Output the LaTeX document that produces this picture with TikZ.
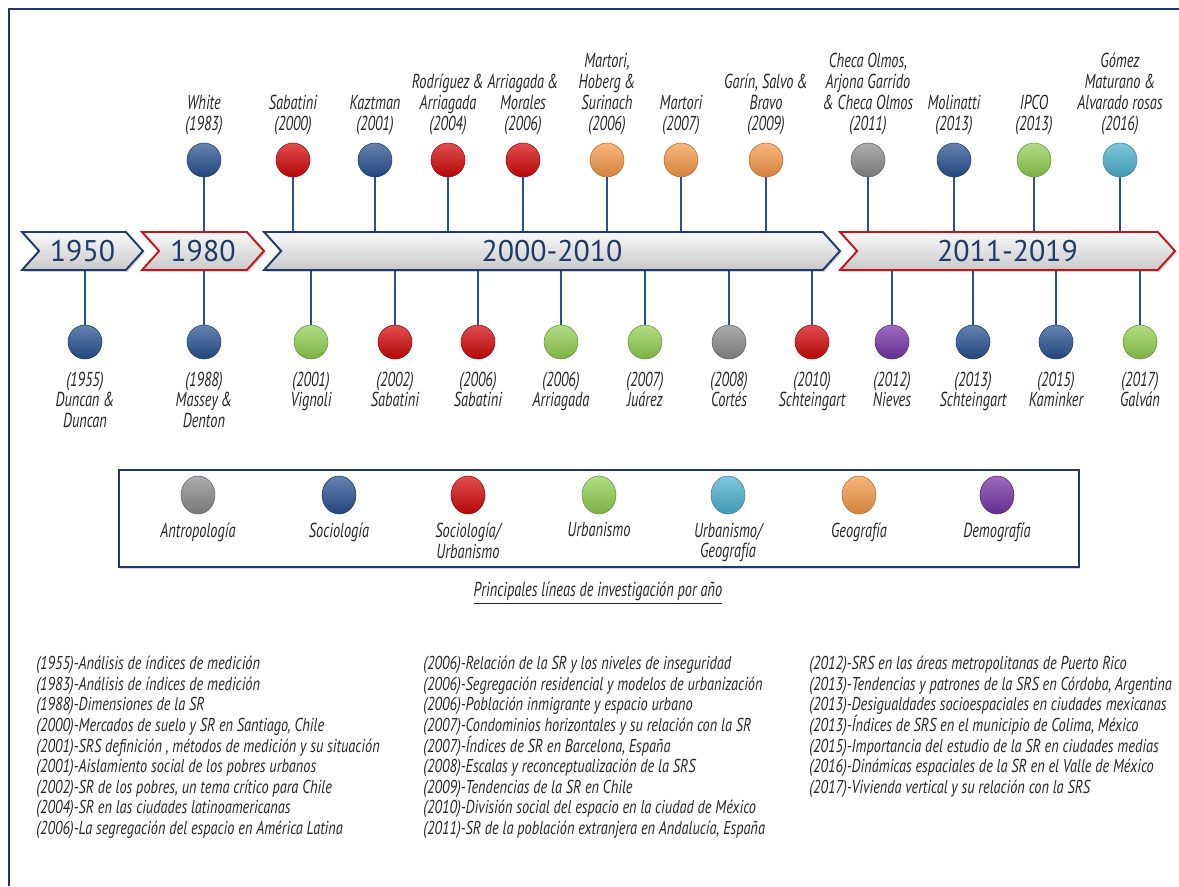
\documentclass[tikz,border=0pt]{standalone}
\usepackage{fontspec}
\setmainfont{PT Sans}
\newfontfamily\handfont{PT Sans}[FakeStretch=0.71]
\newfontfamily\listfont{PT Sans}[FakeStretch=0.77]
\usetikzlibrary{positioning, shapes.symbols, shapes.geometric, shadows}

\definecolor{socblue}{RGB}{40,82,145}
\definecolor{socred}{RGB}{212,8,10}
\definecolor{urbgreen}{RGB}{146,208,80}
\definecolor{urbcyan}{RGB}{75,178,208}
\definecolor{geoorange}{RGB}{247,153,72}
\definecolor{antgray}{RGB}{140,140,140}
\definecolor{demopurple}{RGB}{118,52,168}
\definecolor{framblue}{RGB}{31,58,104}
\definecolor{stemblue}{RGB}{45,80,140}
\definecolor{barred}{RGB}{196,20,30}

\begin{document}
\begin{tikzpicture}[x=0.02cm, y=-0.02cm,
    bead/.style={circle, minimum size=0.68cm, inner sep=0pt, draw=#1!70!black, line width=0.3pt, top color=#1!72!white, bottom color=#1!85!black},
    legbead/.style={ellipse, minimum width=0.68cm, minimum height=0.76cm, inner sep=0pt, draw=#1!70!black, line width=0.3pt, top color=#1!72!white, bottom color=#1!85!black},
    banner/.style={signal, signal from=west, signal to=east, signal pointer angle=96, minimum height=0.76cm, inner sep=0pt, top color=gray!5, bottom color=gray!42, draw=framblue, line width=1.1pt, text=framblue, font=\fontsize{17}{17}\selectfont, drop shadow={opacity=0.35, shadow xshift=1pt, shadow yshift=-1pt}},
    redbanner/.style={banner, draw=barred},
    stem/.style={draw=stemblue, line width=1.2pt},
    toplab/.style={align=center, inner sep=0pt, text=black!85, font=\handfont\itshape\fontsize{11.5}{11.9}\selectfont},
    legtext/.style={toplab},
    listtext/.style={align=left, anchor=north west, inner sep=0pt, text=black!85, font=\listfont\itshape\fontsize{10.6}{11.7}\selectfont}
  ]
  \useasboundingbox (0,0) rectangle (1179,886);
  \draw[framblue, line width=1.5pt] (1179,9) -- (9,9) -- (9,886);

  % time bar
  \node (b1950) [banner, minimum width=2.42cm] at (82.5,251) {1950};
  \node (b1980) [redbanner, minimum width=2.44cm] at (203,251) {1980};
  \node (b2000) [banner, minimum width=11.52cm] at (552,251) {2000-2010};
  \node (b2011) [redbanner, minimum width=6.7cm] at (1007.5,251) {2011-2019};

  % upper row
  \node (tWhite) [bead=socblue] at (204,160) {};
  \node (tSab) [bead=socred] at (293,160) {};
  \node (tKaz) [bead=socblue] at (375,160) {};
  \node (tRod) [bead=socred] at (448,160) {};
  \node (tArrM) [bead=socred] at (523,160) {};
  \node (tMarH) [bead=geoorange] at (607,160) {};
  \node (tMar) [bead=geoorange] at (681,160) {};
  \node (tGar) [bead=geoorange] at (766,160) {};
  \node (tChe) [bead=antgray] at (868,160) {};
  \node (tMol) [bead=socblue] at (954,160) {};
  \node (tIPCO) [bead=urbgreen] at (1034,160) {};
  \node (tGom) [bead=urbcyan] at (1120,160) {};

  \node (lWhite) [toplab, above=0.15cm of tWhite] {White\\(1983)};
  \node (lSab) [toplab, above=0.15cm of tSab] {Sabatini\\(2000)};
  \node (lKaz) [toplab, above=0.15cm of tKaz] {Kaztman\\(2001)};
  \node (lRod) [toplab, above=0.15cm of tRod] {Rodríguez\,\&\\Arriagada\\(2004)};
  \node (lArrM) [toplab, above=0.15cm of tArrM] {Arriagada\,\&\\Morales\\(2006)};
  \node (lMarH) [toplab, above=0.15cm of tMarH] {Martori,\\Hoberg\,\&\\Surinach\\(2006)};
  \node (lMar) [toplab, above=0.15cm of tMar] {Martori\\(2007)};
  \node (lGar) [toplab, above=0.15cm of tGar] {Garín, Salvo\,\&\\Bravo\\(2009)};
  \node (lChe) [toplab, above=0.15cm of tChe] {Checa Olmos,\\Arjona Garrido\\\& Checa Olmos\\(2011)};
  \node (lMol) [toplab, above=0.15cm of tMol] {Molinatti\\(2013)};
  \node (lIPCO) [toplab, above=0.15cm of tIPCO] {IPCO\\(2013)};
  \node (lGom) [toplab, above=0.15cm of tGom] {Gómez\\Maturano \&\\Alvarado rosas\\(2016)};

  \draw[stem] (tWhite) -- (tWhite |- b1980.north);
  \draw[stem] (tSab) -- (tSab |- b2000.north);
  \draw[stem] (tKaz) -- (tKaz |- b2000.north);
  \draw[stem] (tRod) -- (tRod |- b2000.north);
  \draw[stem] (tArrM) -- (tArrM |- b2000.north);
  \draw[stem] (tMarH) -- (tMarH |- b2000.north);
  \draw[stem] (tMar) -- (tMar |- b2000.north);
  \draw[stem] (tGar) -- (tGar |- b2000.north);
  \draw[stem] (tChe) -- (tChe |- b2011.north);
  \draw[stem] (tMol) -- (tMol |- b2011.north);
  \draw[stem] (tIPCO) -- (tIPCO |- b2011.north);
  \draw[stem] (tGom) -- (tGom |- b2011.north);

  % lower row
  \node (dDun) [bead=socblue] at (85,342) {};
  \node (dMas) [bead=socblue] at (204,342) {};
  \node (dVig) [bead=urbgreen] at (311,342) {};
  \node (dSab2) [bead=socred] at (395,342) {};
  \node (dSab6) [bead=socred] at (478,342) {};
  \node (dArr) [bead=urbgreen] at (561,342) {};
  \node (dJua) [bead=urbgreen] at (645,342) {};
  \node (dCor) [bead=antgray] at (729,342) {};
  \node (dSch0) [bead=socred] at (812,342) {};
  \node (dNie) [bead=demopurple] at (892,342) {};
  \node (dSch3) [bead=socblue] at (973,342) {};
  \node (dKam) [bead=socblue] at (1056,342) {};
  \node (dGal) [bead=urbgreen] at (1140,342) {};

  \node (mDun) [toplab, below=0.24cm of dDun] {(1955)\\Duncan \&\\Duncan};
  \node (mMas) [toplab, below=0.24cm of dMas] {(1988)\\Massey\,\&\\Denton};
  \node (mVig) [toplab, below=0.24cm of dVig] {(2001)\\Vignoli};
  \node (mSab2) [toplab, below=0.24cm of dSab2] {(2002)\\Sabatini};
  \node (mSab6) [toplab, below=0.24cm of dSab6] {(2006)\\Sabatini};
  \node (mArr) [toplab, below=0.24cm of dArr] {(2006)\\Arriagada};
  \node (mJua) [toplab, below=0.24cm of dJua] {(2007)\\Juárez};
  \node (mCor) [toplab, below=0.24cm of dCor] {(2008)\\Cortés};
  \node (mSch0) [toplab, below=0.24cm of dSch0] {(2010)\\Schteingart};
  \node (mNie) [toplab, below=0.24cm of dNie] {(2012)\\Nieves};
  \node (mSch3) [toplab, below=0.24cm of dSch3] {(2013)\\Schteingart};
  \node (mKam) [toplab, below=0.24cm of dKam] {(2015)\\Kaminker};
  \node (mGal) [toplab, below=0.24cm of dGal] {(2017)\\Galván};

  \draw[stem] (b1950.south -| dDun) -- (dDun);
  \draw[stem] (b1980.south -| dMas) -- (dMas);
  \draw[stem] (b2000.south -| dVig) -- (dVig);
  \draw[stem] (b2000.south -| dSab2) -- (dSab2);
  \draw[stem] (b2000.south -| dSab6) -- (dSab6);
  \draw[stem] (b2000.south -| dArr) -- (dArr);
  \draw[stem] (b2000.south -| dJua) -- (dJua);
  \draw[stem] (b2000.south -| dCor) -- (dCor);
  \draw[stem] (b2000.south -| dSch0) -- (dSch0);
  \draw[stem] (b2011.south -| dNie) -- (dNie);
  \draw[stem] (b2011.south -| dSch3) -- (dSch3);
  \draw[stem] (b2011.south -| dKam) -- (dKam);
  \draw[stem] (b2011.south -| dGal) -- (dGal);

  % legend
  \draw[framblue, line width=1.6pt, fill=white, drop shadow={opacity=0.3, shadow xshift=0.8pt, shadow yshift=-1.2pt}] (119,470) rectangle (1079,567);
  \node (kAnt) [legbead=antgray] at (198,495) {};
  \node (kSoc) [legbead=socblue] at (339,495) {};
  \node (kSocU) [legbead=socred] at (468,495) {};
  \node (kUrb) [legbead=urbgreen] at (599,495) {};
  \node (kUrbG) [legbead=urbcyan] at (728,495) {};
  \node (kGeo) [legbead=geoorange] at (859,495) {};
  \node (kDem) [legbead=demopurple] at (997,495) {};
  \node (kAntT) [legtext, below=0.16cm of kAnt] {Antropología};
  \node (kSocT) [legtext, below=0.16cm of kSoc] {Sociología};
  \node (kSocUT) [legtext, below=0.16cm of kSocU] {Sociología/\\Urbanismo};
  \node (kUrbT) [legtext, below=0.16cm of kUrb] {Urbanismo};
  \node (kUrbGT) [legtext, below=0.16cm of kUrbG] {Urbanismo/\\Geografía};
  \node (kGeoT) [legtext, below=0.16cm of kGeo] {Geografía};
  \node (kDemT) [legtext, below=0.16cm of kDem] {Demografía};

  \node (title) [legtext] at (598,593) {\underline{Principales líneas de investigación por año}};

  % research lines by year
  \node (col1) [listtext] at (36,656) {(1955)-Análisis de índices de medición\\
    (1983)-Análisis de índices de medición\\
    (1988)-Dimensiones de la SR\\
    (2000)-Mercados de suelo y SR en Santiago, Chile\\
    (2001)-SRS definición , métodos de medición y su situación\\
    (2001)-Aislamiento social de los pobres urbanos\\
    (2002)-SR de los pobres, un tema crítico para Chile\\
    (2004)-SR en las ciudades latinoamericanas\\
    (2006)-La segregación del espacio en América Latina};
  \node (col2) [listtext] at (423,656) {(2006)-Relación de la SR y los niveles de inseguridad\\
    (2006)-Segregación residencial y modelos de urbanización\\
    (2006)-Población inmigrante y espacio urbano\\
    (2007)-Condominios horizontales y su relación con la SR\\
    (2007)-Índices de SR en Barcelona, España\\
    (2008)-Escalas y reconceptualización de la SRS\\
    (2009)-Tendencias de la SR en Chile\\
    (2010)-División social del espacio en la ciudad de México\\
    (2011)-SR de la población extranjera en Andalucía, España};
  \node (col3) [listtext] at (809,656) {(2012)-SRS en las áreas metropolitanas de Puerto Rico\\
    (2013)-Tendencias y patrones de la SRS en Córdoba, Argentina\\
    (2013)-Desigualdades socioespaciales en ciudades mexicanas\\
    (2013)-Índices de SRS en el municipio de Colima, México\\
    (2015)-Importancia del estudio de la SR en ciudades medias\\
    (2016)-Dinámicas espaciales de la SR en el Valle de México\\
    (2017)-Vivienda vertical y su relación con la SRS};
\end{tikzpicture}
\end{document}
